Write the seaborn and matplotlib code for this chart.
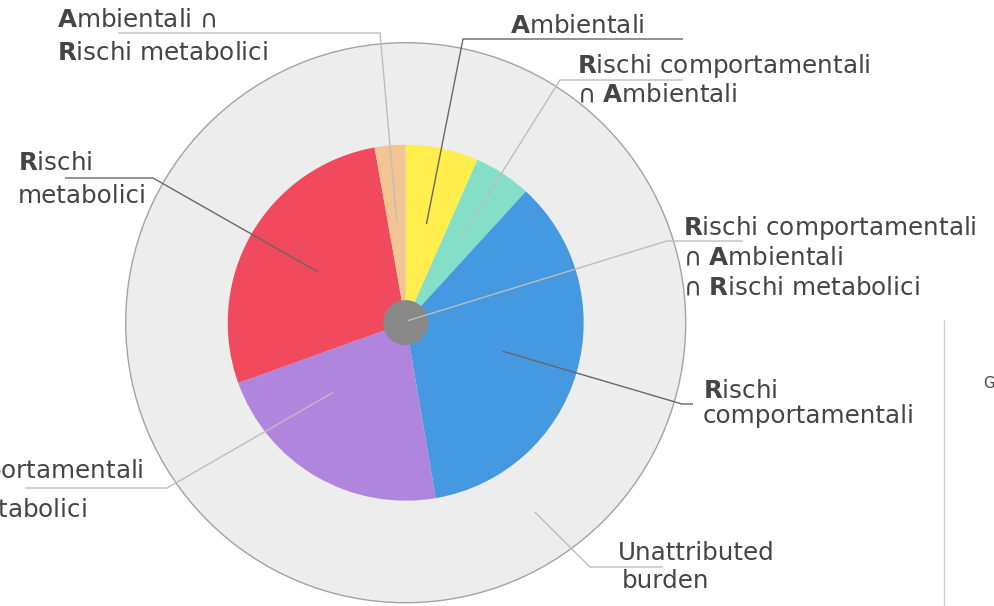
import numpy as np
import matplotlib
matplotlib.use("Agg")
import matplotlib.pyplot as plt
import seaborn as sns
from matplotlib.patches import Circle

# ---------------- data ----------------
categories = [
    "Ambientali",
    "Rischi comportamentali ∩ Ambientali",
    "Rischi comportamentali",
    "Rischi comportamentali ∩ Rischi metabolici",
    "Rischi metabolici",
    "Ambientali ∩ Rischi metabolici",
]
shares = [6.6, 5.2, 35.5, 22.2, 27.7, 2.8]      # % of attributable burden
attributable_share = 40.4                        # % of total burden
all_three_share = 0.65                           # % of total burden (centre)
slice_colors = ["#FFEE4C", "#84DEC8", "#4499E1", "#B085DD", "#F1495D", "#F3C592"]

# ---------------- style ----------------
sns.set_theme(style="white")
plt.rcParams["font.family"] = ["DejaVu Sans"]
plt.rcParams["mathtext.fontset"] = "dejavusans"

W, H = 994, 606
fig = plt.figure(figsize=(W / 100, H / 100), dpi=100)
ax = fig.add_axes([0, 0, 1, 1])

def Y(y):
    return H - y

cx, cy = 405.7, Y(322.7)
R_out = 280.0
r_in = R_out * np.sqrt(attributable_share / 100)
r_ctr = R_out * np.sqrt(all_three_share / 100)

ax.add_patch(Circle((cx, cy), R_out, facecolor="#EDEDED", edgecolor="#A3A3A3",
                    linewidth=1.0, zorder=1))
wedges, _ = ax.pie(shares, colors=slice_colors, startangle=90, counterclock=False,
                   radius=r_in, center=(cx, cy), wedgeprops=dict(linewidth=0, zorder=2))
for w in wedges:
    w.set_zorder(2)
ax.add_patch(Circle((cx, cy), r_ctr, facecolor="#888888", edgecolor="none", zorder=3))

ax.set_xlim(0, W)
ax.set_ylim(0, H)
ax.set_aspect("equal")
ax.axis("off")

DARK = "#676767"
LIGHT = "#BDBDBD"
TXT = "#454545"
FS = 17.7

def wedge_point(i, frac=0.5, rfrac=0.567):
    w = wedges[i]
    ang = np.deg2rad(w.theta2 - frac * (w.theta2 - w.theta1))
    return cx + r_in * rfrac * np.cos(ang), cy + r_in * rfrac * np.sin(ang)

def leader(p0, elbow, end, color):
    xs = [p0[0], elbow[0], end[0]]
    ys = [p0[1], Y(elbow[1]), Y(end[1])]
    ax.plot(xs, ys, color=color, lw=1.0, zorder=4, solid_capstyle="butt")

def label(x, lines, baselines, xs=None):
    for k, (s, b) in enumerate(zip(lines, baselines)):
        xx = x if xs is None else xs[k]
        ax.text(xx, Y(b), s, fontsize=FS, color=TXT, ha="left", va="baseline", zorder=5)

# Ambientali ∩ Rischi metabolici
leader(wedge_point(5), (380, 33), (118, 33), LIGHT)
label(57, [r"$\mathbf{A}$mbientali ∩", r"$\mathbf{R}$ischi metabolici"], [27, 60])

# Ambientali
leader(wedge_point(0), (463, 39), (683, 39), DARK)
label(510, [r"$\mathbf{A}$mbientali"], [33])

# Rischi comportamentali ∩ Ambientali
leader(wedge_point(1), (560, 80), (683, 80), LIGHT)
label(577, [r"$\mathbf{R}$ischi comportamentali", r"∩ $\mathbf{A}$mbientali"], [72.7, 101.7])

# all three (centre)
leader((cx + 2, cy + 2), (666.7, 241), (743, 241), LIGHT)
label(683, [r"$\mathbf{R}$ischi comportamentali", r"∩ $\mathbf{A}$mbientali",
            r"∩ $\mathbf{R}$ischi metabolici"], [235, 265, 295])

# Rischi comportamentali
leader(wedge_point(2), (682, 404), (693, 404), DARK)
label(702.7, [r"$\mathbf{R}$ischi", "comportamentali"], [398, 423])

# Rischi comportamentali ∩ Rischi metabolici
leader(wedge_point(3, frac=0.70), (167, 488), (25, 488), LIGHT)
label(-150, [r"$\mathbf{R}$ischi comportamentali", r"∩ $\mathbf{R}$ischi metabolici"], [478, 517])

# Rischi metabolici
leader(wedge_point(4), (153, 178), (65, 178), DARK)
label(18, [r"$\mathbf{R}$ischi", "metabolici"], [170, 202.7])

# Unattributed burden
ang = np.deg2rad(90 - 145.7)
r_mid = (r_in + R_out) / 2
p_un = (cx + r_mid * np.cos(ang), cy + r_mid * np.sin(ang))
leader(p_un, (590, 567), (663, 567), LIGHT)
label(618, ["Unattributed", "burden"], [560, 588], xs=[618, 621.5])

# right-hand divider and clipped text
ax.plot([944.3, 944.3], [Y(320), Y(606)], color="#CFCFCF", lw=1.0, zorder=1)
ax.text(983, Y(388), "G", fontsize=10.5, color=TXT, ha="left", va="baseline")

fig.savefig("out.png", dpi=100)
